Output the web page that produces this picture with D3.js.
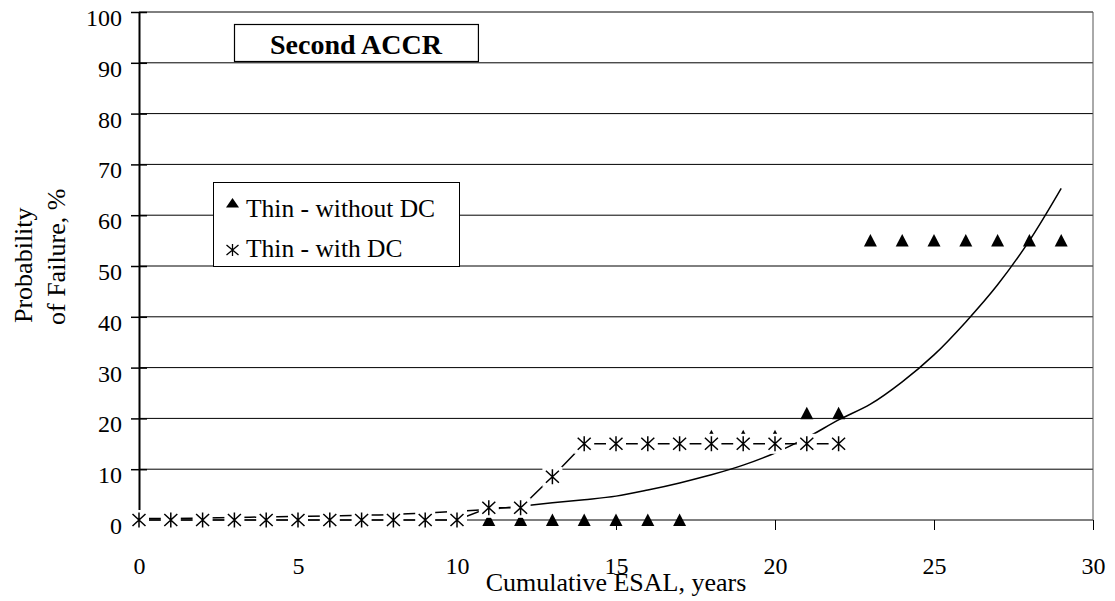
<!DOCTYPE html>
<html>
<head>
<meta charset="utf-8">
<script src="https://cdn.jsdelivr.net/npm/d3@7/dist/d3.min.js"></script>
<style>
  html, body { margin: 0; padding: 0; background: #fff; }
  svg { display: block; }
  svg text { font-family: "Liberation Serif", "Times New Roman", "DejaVu Serif", serif !important; fill: #000; }
</style>
</head>
<body>
<svg id="chart" width="1115" height="601"></svg>
<script>
// ---------- data ----------
const titleText = "Second ACCR";
const xAxisTitle = "Cumulative ESAL, years";
const yAxisTitleLines = ["Probability", "of Failure, %"];
const seriesNames = ["Thin - without DC", "Thin - with DC"];

const xTicks = [0, 5, 10, 15, 20, 25, 30];
const yTicks = [0, 10, 20, 30, 40, 50, 60, 70, 80, 90, 100];

// Thin - without DC (triangles)
const withoutDCYears = [11, 12, 13, 14, 15, 16, 17, 18, 19, 20, 21, 22, 23, 24, 25, 26, 27, 28, 29];
const withoutDCValues = [0, 0, 0, 0, 0, 0, 0, 16.5, 16.5, 16.5, 21, 21, 55, 55, 55, 55, 55, 55, 55];

// Thin - with DC (stars, joined by a line)
const withDCYears = [0, 1, 2, 3, 4, 5, 6, 7, 8, 9, 10, 11, 12, 13, 14, 15, 16, 17, 18, 19, 20, 21, 22];
const withDCValues = [0, 0, 0, 0, 0, 0, 0, 0, 0, 0, 0, 2.4, 2.4, 8.5, 15, 15, 15, 15, 15, 15, 15, 15, 15];

// trend curve
const trendYears = [0, 1, 2, 3, 4, 5, 6, 7, 8, 9, 10, 11, 12, 13, 14, 15, 16, 17, 18, 19, 20, 21, 22, 23, 24, 25, 26, 27, 28, 29];
const trendValues = [0.3, 0.3, 0.4, 0.5, 0.6, 0.7, 0.8, 0.95, 1.1, 1.4, 1.7, 2.1, 2.7, 3.4, 4.0, 4.7, 5.9, 7.3, 8.9, 10.8, 13.2, 16.2, 19.7, 22.8, 27.2, 32.5, 39.0, 46.3, 55.0, 65.3];

// ---------- layout ----------
const FONT = "'Liberation Serif','Times New Roman',serif";
const svg = d3.select("#chart");
const x = d3.scaleLinear().domain([0, 30]).range([139, 1093]);
const y = d3.scaleLinear().domain([0, 100]).range([520, 12]);

const triPath = "M0,-6.5L6.5,6L-6.5,6Z";
const starPath = "M-6.5,-6L6.5,6M-6.5,6L6.5,-6M0,-7.5L0,7.5";

// gridlines
svg.append("g").selectAll("line").data(yTicks).join("line")
  .attr("x1", x(0)).attr("x2", x(30))
  .attr("y1", d => y(d)).attr("y2", d => y(d))
  .attr("stroke", "#000").attr("stroke-width", 1);

// right border of plot area
svg.append("line")
  .attr("x1", x(30)).attr("x2", x(30))
  .attr("y1", y(100)).attr("y2", y(0))
  .attr("stroke", "#555").attr("stroke-width", 1);

// x axis ticks + labels
const xAxis = d3.axisBottom(x).tickValues(xTicks).tickSize(10).tickFormat(d3.format("d"));
const gx = svg.append("g").attr("transform", `translate(0,${y(0)})`).call(xAxis)
  .attr("font-family", FONT).attr("font-size", 24);
gx.select(".domain").remove();
gx.selectAll(".tick line").attr("stroke", "#000").attr("stroke-width", 1);
gx.selectAll(".tick text").attr("y", 54).attr("dy", 0)
  .style("font-size", "24px");

// y axis
const yAxis = d3.axisLeft(y).tickValues(yTicks).tickSizeInner(8).tickSizeOuter(0).tickPadding(9);
const gy = svg.append("g").attr("transform", `translate(${x(0)},0)`).call(yAxis)
  .attr("font-family", FONT).attr("font-size", 24);
gy.select(".domain").attr("stroke", "#000").attr("stroke-width", 2);
gy.selectAll(".tick line").attr("x1", -8).attr("x2", 8).attr("stroke", "#000").attr("stroke-width", 1.5);
gy.selectAll(".tick text").attr("dy", "0.56em")
  .style("font-size", "24px");

// trend curve
const trendData = trendYears.map((t, i) => [t, trendValues[i]]);
svg.append("path").datum(trendData)
  .attr("fill", "none").attr("stroke", "#000").attr("stroke-width", 1.5)
  .attr("d", d3.line().x(d => x(d[0])).y(d => y(d[1])).curve(d3.curveCatmullRom));

// triangles
const triData = withoutDCYears.map((t, i) => [t, withoutDCValues[i]]);
svg.append("g").selectAll("path").data(triData).join("path")
  .attr("transform", d => `translate(${x(d[0])},${y(d[1])})`)
  .attr("d", triPath).attr("fill", "#000");

// with DC connector line
const starData = withDCYears.map((t, i) => [t, withDCValues[i]]);
svg.append("path").datum(starData)
  .attr("fill", "none").attr("stroke", "#000").attr("stroke-width", 1.5)
  .attr("d", d3.line().x(d => x(d[0])).y(d => y(d[1])));

// star markers (with white backing)
const gs = svg.append("g").selectAll("g").data(starData).join("g")
  .attr("transform", d => `translate(${x(d[0])},${y(d[1])})`);
gs.append("rect").attr("x", -10).attr("y", -10).attr("width", 20).attr("height", 20).attr("fill", "#fff");
gs.append("path").attr("d", starPath).attr("stroke", "#000").attr("stroke-width", 1.5).attr("fill", "none");

// axis titles
svg.append("text").attr("x", (x(0) + x(30)) / 2).attr("y", 591)
  .attr("text-anchor", "middle").style("font-size", "26px").text(xAxisTitle);
svg.append("text").attr("transform", "translate(32,323) rotate(-90)")
  .attr("text-anchor", "start").style("font-size", "26px").text(yAxisTitleLines[0]);
svg.append("text").attr("transform", "translate(65,325) rotate(-90)")
  .attr("text-anchor", "start").style("font-size", "26px").text(yAxisTitleLines[1]);

// legend
const lg = svg.append("g");
lg.append("rect").attr("x", 213.5).attr("y", 182.5).attr("width", 246).attr("height", 84)
  .attr("fill", "#fff").attr("stroke", "#000").attr("stroke-width", 1);
lg.append("path").attr("transform", "translate(232.5,203)").attr("d", "M0,-5L6.5,4.5L-6.5,4.5Z").attr("fill", "#000");
lg.append("text").attr("x", 246).attr("y", 217).style("font-size", "25.5px").text(seriesNames[0]);
lg.append("path").attr("transform", "translate(232.5,250)").attr("d", "M-6,-5L6,5M-6,5L6,-5M0,-6L0,6")
  .attr("stroke", "#000").attr("stroke-width", 1.3).attr("fill", "none");
lg.append("text").attr("x", 246).attr("y", 257).style("font-size", "25.5px").text(seriesNames[1]);

// title box
const tg = svg.append("g");
const tRect = tg.append("rect").attr("x", 234.5).attr("y", 24.5).attr("height", 37)
  .attr("fill", "#fff").attr("stroke", "#000").attr("stroke-width", 1.2);
const tText = tg.append("text").attr("x", 270).attr("y", 54)
  .style("font-size", "28px").style("font-weight", "bold").text(titleText);
const tw = tText.node().getComputedTextLength();
tRect.attr("width", tw + 72);
</script>
</body>
</html>
